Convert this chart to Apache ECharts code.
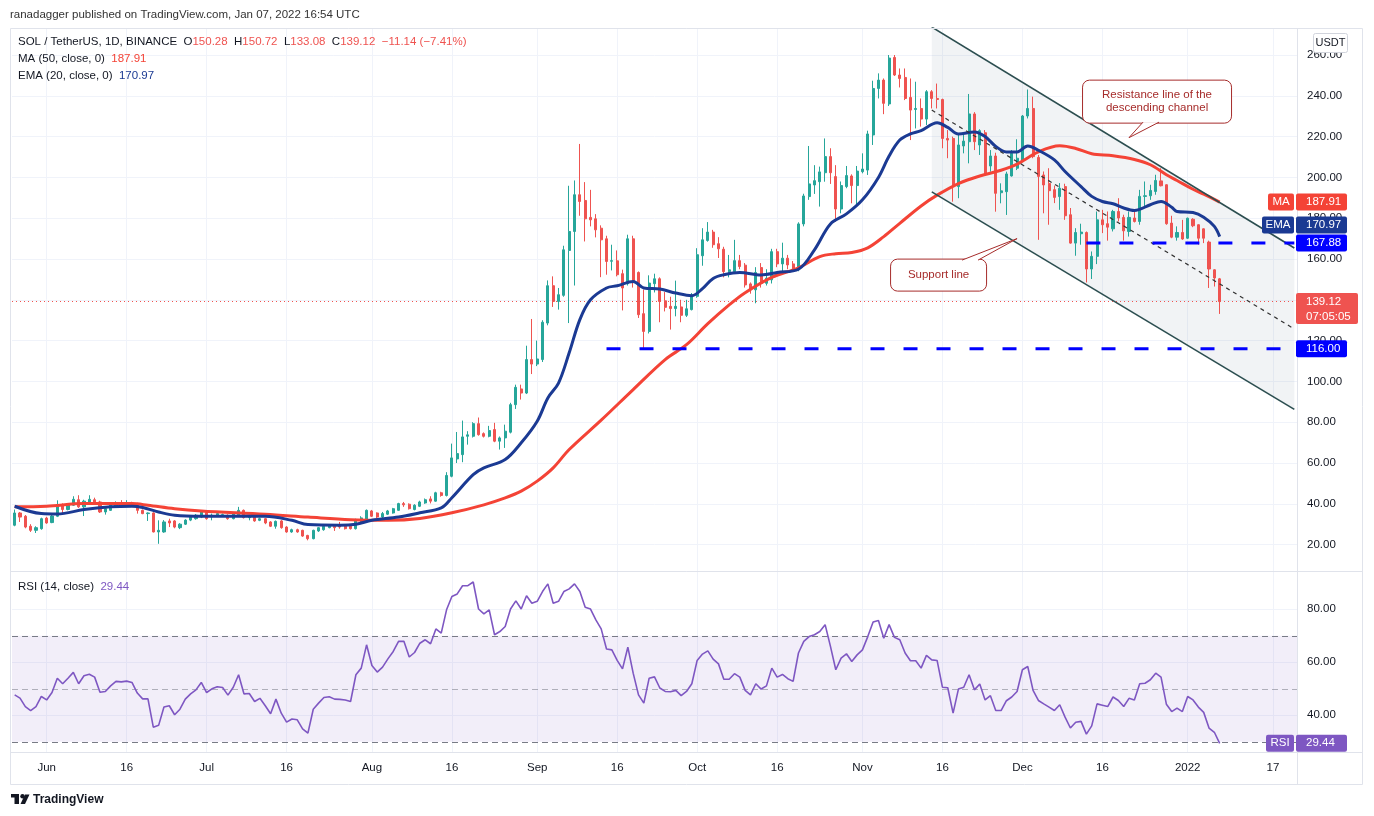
<!DOCTYPE html>
<html lang="en">
<head>
<meta charset="utf-8">
<title>SOL / TetherUS, 1D, BINANCE</title>
<script src="https://cdn.jsdelivr.net/npm/echarts@6.0.0/dist/echarts.min.js"></script>
<style>
  html, body { margin: 0; padding: 0; background: #ffffff; }
  #chart { width: 1374px; height: 816px; }
</style>
</head>
<body>
<div id="chart"></div>
<script>
// daily candles from 2021-05-26 to 2022-01-07, each row is [open, high, low, close]
var ohlc = [
  [29.5, 37.2, 29.0, 35.5], [35.5, 36.0, 31.1, 33.5], [33.9, 34.5, 28.0, 28.6], [29.0, 30.0, 26.2, 27.0], [27.0, 29.0, 25.7, 28.3],
  [27.8, 33.2, 27.3, 32.7], [33.0, 33.6, 30.2, 30.6], [30.8, 34.5, 30.5, 34.0], [33.9, 41.7, 33.5, 39.6], [39.6, 40.2, 34.7, 37.2],
  [37.2, 40.4, 36.8, 40.1], [39.3, 43.7, 39.0, 42.2], [42.0, 44.2, 38.0, 38.5], [38.5, 42.0, 34.0, 41.3], [40.1, 44.2, 39.8, 42.2],
  [42.0, 43.0, 40.0, 40.4], [40.9, 41.5, 35.5, 36.0], [36.0, 38.0, 34.7, 37.6], [36.8, 40.0, 36.5, 39.5], [38.5, 41.2, 38.2, 40.4],
  [40.4, 41.8, 39.2, 39.5], [39.5, 41.8, 38.5, 40.4], [40.4, 41.0, 39.0, 39.5], [40.1, 40.5, 35.2, 36.8], [36.8, 37.2, 34.9, 35.2],
  [35.2, 35.8, 31.6, 35.5], [35.5, 35.8, 26.0, 26.2], [26.2, 31.9, 20.4, 27.0], [26.2, 32.0, 25.8, 31.1], [31.6, 32.7, 28.6, 30.6],
  [31.6, 32.0, 28.0, 28.6], [28.3, 30.5, 27.6, 30.0], [30.0, 32.4, 29.6, 32.0], [32.0, 34.0, 31.5, 33.5], [32.7, 35.0, 32.2, 34.4],
  [33.5, 36.2, 33.0, 36.0], [35.7, 36.2, 32.2, 32.7], [33.6, 35.2, 31.9, 34.4], [33.9, 35.5, 33.5, 35.2], [34.2, 35.2, 33.8, 34.7],
  [34.4, 34.8, 32.2, 32.7], [32.7, 35.6, 32.4, 35.2], [34.4, 38.5, 34.0, 36.8], [36.8, 37.2, 32.8, 33.2], [33.2, 34.4, 31.9, 34.0],
  [33.5, 34.0, 31.2, 31.6], [31.9, 33.2, 31.5, 32.7], [32.7, 33.0, 30.0, 30.6], [31.1, 31.5, 28.6, 29.0], [29.0, 31.8, 27.8, 31.4],
  [31.6, 32.0, 27.8, 28.3], [28.6, 29.0, 25.8, 26.2], [26.2, 27.8, 25.8, 27.3], [27.3, 27.8, 25.8, 26.2], [27.0, 27.3, 23.8, 24.2],
  [24.5, 24.8, 22.1, 22.9], [22.9, 27.3, 22.6, 27.0], [26.7, 28.6, 26.2, 28.3], [27.3, 29.4, 26.8, 29.0], [28.3, 29.8, 28.0, 29.5],
  [29.0, 29.5, 26.7, 28.3], [29.5, 31.1, 27.8, 28.6], [29.0, 29.4, 27.4, 27.8], [29.0, 29.4, 27.4, 27.8], [27.8, 32.7, 27.4, 31.6],
  [31.1, 33.9, 30.3, 33.1], [32.2, 37.2, 31.8, 36.8], [36.5, 37.0, 33.5, 33.9], [35.5, 35.8, 33.0, 33.5], [33.5, 36.0, 32.7, 35.2],
  [34.9, 37.0, 34.5, 36.5], [35.5, 38.0, 35.2, 37.6], [36.8, 40.5, 36.5, 40.1], [40.1, 40.9, 38.5, 39.5], [39.8, 40.2, 37.2, 37.6],
  [37.2, 39.8, 36.8, 39.3], [38.8, 41.5, 38.4, 40.9], [40.4, 42.6, 40.0, 42.0], [42.4, 43.7, 40.2, 41.3], [41.3, 45.9, 41.0, 45.4],
  [45.4, 45.9, 43.5, 44.1], [44.1, 55.5, 43.6, 53.9], [53.5, 69.5, 53.0, 62.5], [62.0, 75.2, 60.0, 64.6], [64.1, 80.8, 60.4, 72.8],
  [73.1, 75.6, 69.0, 73.8], [73.1, 80.0, 72.5, 79.3], [79.3, 82.3, 73.4, 73.9], [74.4, 75.0, 72.5, 73.1], [73.1, 78.2, 72.6, 75.9],
  [76.4, 79.7, 70.2, 70.7], [70.7, 73.0, 66.6, 72.3], [72.3, 78.8, 67.4, 75.6], [75.1, 89.5, 74.5, 88.6], [88.6, 98.4, 86.5, 97.1],
  [96.3, 98.4, 91.1, 94.3], [94.3, 117.5, 93.8, 110.7], [110.7, 130.6, 103.6, 108.5], [108.5, 120.0, 107.5, 111.0], [110.7, 130.0, 109.5, 129.0],
  [128.6, 149.5, 127.5, 146.9], [146.9, 151.5, 136.5, 139.2], [139.2, 145.8, 135.2, 142.5], [142.2, 166.5, 141.5, 164.5], [164.2, 195.9, 128.6, 173.5],
  [173.5, 198.5, 147.0, 191.5], [191.5, 216.4, 181.2, 188.2], [188.7, 197.7, 168.6, 179.7], [180.4, 193.9, 176.0, 179.2], [179.7, 182.0, 170.6, 174.3],
  [175.1, 176.5, 151.1, 169.4], [169.9, 171.4, 152.3, 158.8], [158.9, 167.0, 154.4, 159.2], [159.1, 164.2, 151.5, 152.3], [152.8, 154.8, 134.8, 145.8],
  [147.9, 171.9, 147.0, 169.9], [169.9, 171.4, 146.0, 148.5], [153.4, 153.9, 131.1, 132.7], [133.2, 145.0, 116.4, 124.5], [124.5, 152.0, 123.5, 148.2],
  [147.9, 152.8, 143.6, 150.3], [150.3, 151.0, 129.0, 139.2], [139.5, 143.8, 134.3, 136.3], [136.8, 141.5, 125.4, 135.7], [135.7, 149.4, 131.9, 136.8],
  [136.5, 140.0, 129.0, 132.4], [132.4, 140.0, 131.6, 135.6], [135.2, 143.3, 134.8, 142.2], [141.7, 165.3, 141.0, 162.1], [161.6, 175.1, 156.7, 169.4],
  [169.1, 178.1, 168.5, 173.2], [173.2, 174.3, 165.5, 167.0], [167.5, 170.7, 160.5, 165.0], [164.8, 166.0, 151.0, 153.8], [153.8, 162.0, 151.0, 154.7],
  [153.8, 169.4, 153.0, 159.2], [159.2, 162.0, 155.0, 156.3], [157.0, 158.0, 146.0, 147.3], [147.8, 148.5, 143.0, 144.9], [144.9, 156.0, 138.3, 153.4],
  [155.8, 158.0, 146.0, 148.1], [148.1, 155.0, 147.0, 150.6], [149.8, 165.0, 148.0, 163.6], [163.6, 165.0, 156.0, 157.6], [157.6, 168.0, 153.4, 160.4],
  [160.4, 162.0, 155.0, 157.1], [157.6, 159.0, 154.0, 155.5], [155.0, 178.0, 154.0, 177.2], [177.2, 192.0, 176.0, 190.9], [190.6, 215.4, 189.0, 196.8],
  [196.3, 206.0, 191.9, 198.4], [197.9, 205.3, 185.7, 202.7], [202.3, 219.1, 197.9, 210.2], [210.2, 214.3, 196.8, 202.3], [200.4, 206.0, 178.3, 184.5],
  [184.5, 198.0, 182.4, 196.0], [195.5, 205.6, 194.7, 200.9], [200.7, 201.5, 187.3, 196.0], [196.0, 205.6, 185.7, 203.1], [202.8, 211.8, 202.0, 204.1],
  [203.6, 222.9, 201.2, 221.3], [220.8, 247.4, 215.9, 243.6], [243.6, 251.0, 238.7, 247.7], [247.7, 248.5, 231.0, 236.3], [236.0, 260.0, 235.0, 258.5],
  [258.8, 260.0, 249.7, 250.2], [250.2, 253.4, 244.1, 248.5], [249.0, 253.4, 237.9, 238.7], [239.2, 248.5, 218.3, 233.0], [233.3, 246.9, 224.0, 233.8],
  [233.8, 238.7, 224.9, 228.6], [228.6, 242.8, 225.7, 242.0], [242.0, 242.8, 233.8, 238.7], [238.7, 246.0, 233.8, 238.2], [238.2, 238.6, 214.3, 219.1],
  [219.1, 223.2, 209.4, 218.3], [219.1, 220.0, 188.1, 195.5], [195.5, 220.8, 189.8, 215.9], [215.4, 221.6, 211.8, 217.8], [217.5, 240.9, 206.9, 231.1],
  [231.1, 232.0, 213.4, 217.5], [215.9, 223.6, 211.0, 222.9], [221.9, 223.2, 201.2, 202.0], [205.6, 213.4, 202.8, 210.5], [210.5, 212.1, 183.2, 192.2],
  [192.5, 197.1, 187.3, 193.4], [193.0, 202.8, 181.6, 201.7], [200.7, 213.4, 200.4, 211.8], [204.5, 218.7, 203.6, 209.4], [208.5, 230.6, 207.7, 230.1],
  [230.1, 243.1, 228.9, 233.8], [233.8, 239.6, 209.4, 210.2], [209.8, 211.0, 169.4, 200.5], [201.2, 202.9, 182.4, 196.3], [197.0, 204.5, 176.8, 193.5],
  [194.0, 196.0, 187.4, 190.2], [190.6, 197.2, 184.1, 194.7], [195.5, 196.9, 179.2, 181.2], [181.7, 185.0, 167.5, 167.8], [167.8, 175.1, 161.6, 173.0],
  [172.4, 177.3, 167.0, 173.2], [173.0, 173.5, 148.5, 155.1], [155.1, 163.7, 150.2, 161.3], [161.3, 183.3, 157.5, 179.2], [179.2, 184.1, 172.7, 176.8],
  [177.3, 183.3, 169.0, 175.6], [174.8, 184.1, 173.5, 183.3], [183.3, 189.8, 178.4, 180.1], [180.4, 181.7, 169.0, 173.8], [173.5, 183.3, 171.0, 180.4],
  [180.1, 184.1, 177.9, 178.4], [178.4, 193.9, 176.8, 190.7], [190.7, 198.0, 184.9, 191.0], [191.0, 196.4, 189.0, 193.6], [193.1, 201.3, 191.5, 198.5],
  [198.3, 204.5, 195.6, 195.9], [196.4, 196.6, 176.8, 177.3], [177.6, 181.2, 170.2, 170.7], [170.7, 176.0, 169.0, 173.0], [173.0, 179.2, 169.4, 169.8],
  [170.2, 180.3, 169.8, 180.0], [179.5, 180.0, 175.6, 176.3], [176.8, 177.0, 167.0, 170.2], [174.8, 175.0, 167.8, 170.2], [168.3, 169.0, 145.8, 155.1],
  [154.7, 155.0, 146.5, 150.7], [150.28, 150.72, 133.08, 139.12]
];

// RSI (14, close), one value per candle
var rsi14 = [
  47.7, 46.5, 43.3, 41.8, 43.3, 47.1, 45.8, 48.6, 54.0, 51.9,
  54.0, 56.2, 51.9, 54.9, 55.5, 54.4, 48.7, 49.0, 51.1, 52.8,
  52.6, 52.9, 52.4, 48.4, 46.2, 46.2, 35.5, 36.2, 43.1, 43.6,
  40.2, 42.3, 46.1, 48.1, 49.6, 52.4, 48.6, 50.0, 50.8, 50.5,
  47.6, 50.6, 55.3, 48.1, 48.2, 45.2, 46.4, 43.6, 40.6, 46.1,
  40.8, 37.4, 38.6, 38.3, 34.9, 33.3, 42.3, 44.6, 46.7, 47.0,
  46.1, 46.0, 45.8, 45.2, 55.3, 57.8, 66.6, 58.8, 56.3, 58.2,
  61.3, 64.1, 67.9, 67.9, 62.0, 63.7, 67.2, 68.5, 67.0, 72.6,
  71.0, 79.8, 84.8, 85.8, 88.9, 88.9, 90.3, 80.1, 78.3, 79.8,
  70.4, 71.6, 73.5, 80.1, 83.2, 80.1, 85.1, 82.3, 83.0, 86.7,
  89.6, 82.3, 83.0, 86.7, 87.7, 89.6, 86.7, 80.8, 80.1, 76.0,
  72.6, 65.0, 64.7, 60.7, 57.5, 65.7, 55.9, 47.7, 44.6, 54.0,
  54.5, 50.3, 49.0, 48.9, 49.4, 47.4, 49.0, 51.9, 60.7, 63.1,
  64.3, 61.2, 59.4, 53.6, 53.6, 55.7, 54.4, 49.4, 47.7, 51.9,
  49.9, 51.1, 57.8, 54.4, 55.4, 53.8, 52.8, 63.5, 67.9, 69.7,
  70.4, 71.6, 74.2, 66.0, 57.2, 61.6, 63.2, 60.3, 62.8, 64.7,
  69.7, 75.2, 75.8, 69.1, 74.2, 69.4, 68.5, 63.5, 60.6, 60.6,
  57.8, 62.6, 60.9, 60.7, 50.6, 50.4, 40.8, 49.9, 50.6, 55.3,
  49.6, 51.8, 45.8, 47.4, 41.8, 41.8, 45.5, 46.9, 49.0, 57.2,
  58.4, 49.4, 45.6, 44.3, 43.1, 41.8, 44.0, 39.3, 35.2, 37.4,
  37.7, 32.9, 36.0, 44.3, 43.8, 43.3, 46.9, 45.6, 43.3, 46.4,
  45.8, 51.9, 52.1, 53.4, 55.9, 54.4, 44.2, 41.4, 42.7, 41.4,
  47.1, 45.8, 43.1, 41.1, 35.2, 33.6, 29.44
];

// moving averages as [day index, value]
var ma50 = [
  [0, 38.5], [6, 38.8], [13, 40.1], [22, 40.1], [25, 39.3], [30, 37.6], [35, 36.5], [47, 34.9], [55, 33.5],
  [63, 32.2], [70, 31.9], [76, 32.8], [82, 35.6], [88, 39.5], [92, 42.9], [95, 46.2], [98, 51.1], [101, 57.6],
  [104, 66.6], [110, 81.0], [116, 96.0], [122, 110.7], [126, 118.0], [130, 128.3], [134, 137.5], [137, 143.5],
  [142, 151.0], [147, 155.7], [151, 161.2], [154, 162.6], [157, 163.2], [160, 165.5], [163, 171.0], [166, 177.5],
  [170, 186.0], [173, 191.3], [177, 197.0], [181, 200.7], [185, 203.5], [188, 206.5], [192, 212.5], [196, 215.5],
  [199, 214.2], [202, 211.6], [206, 210.6], [210, 208.8], [213, 206.2], [216, 201.3], [218, 198.5], [221, 194.2],
  [223, 191.8], [226, 187.91]
];
var ema20 = [
  [0, 38.8], [5, 35.2], [8, 35.0], [13, 37.2], [18, 38.5], [22, 38.8], [24, 38.2], [27, 36.0], [30, 34.4],
  [35, 33.9], [47, 33.9], [52, 31.9], [55, 29.8], [61, 29.5], [64, 30.0], [67, 31.9], [72, 33.5], [76, 35.6],
  [80, 38.0], [82, 43.0], [86, 54.3], [88, 57.6], [92, 61.7], [95, 69.9], [98, 80.5], [100, 91.9], [102, 99.2],
  [104, 114.0], [106, 130.3], [108, 140.0], [111, 145.8], [113, 146.9], [116, 149.0], [118, 145.8], [121, 145.3],
  [124, 143.3], [127, 142.0], [129, 145.5], [131, 150.5], [133, 152.3], [136, 153.4], [140, 152.2], [143, 153.4],
  [147, 155.0], [150, 164.5], [153, 177.2], [156, 182.1], [159, 189.0], [162, 200.0], [164, 210.5], [166, 218.3],
  [168, 221.3], [170, 222.9], [173, 226.8], [175, 224.5], [177, 221.3], [180, 222.2], [182, 220.0], [184, 215.2],
  [186, 212.5], [188, 212.5], [190, 215.4], [192, 213.3], [195, 208.6], [197, 202.9], [200, 195.5], [202, 190.7],
  [204, 188.2], [206, 187.1], [208, 185.0], [210, 183.8], [213, 186.6], [215, 188.2], [217, 185.4], [218, 183.3],
  [221, 182.8], [223, 180.5], [225, 176.0], [226, 170.97]
];

// time axis labels as [day index, text]
var timeTicks = [
  [6, 'Jun'], [21, '16'], [36, 'Jul'], [51, '16'], [67, 'Aug'], [82, '16'], [98, 'Sep'], [113, '16'],
  [128, 'Oct'], [143, '16'], [159, 'Nov'], [174, '16'], [189, 'Dec'], [204, '16'], [220, '2022'], [236, '17']
];

// drawings: descending channel and horizontal levels, [day index, price]
var channelTop = [[172, 273.7], [240, 165.4]];
var channelBottom = [[172, 192.9], [240, 86.3]];
var channelMid = [[172, 233.0], [240, 125.7]];
var support116 = [[111, 116], [240, 116]];
var level16788 = [[201, 167.88], [240, 167.88]];
var lastPrice = 139.12;

// 241 daily slots: the bars plus empty room on the right
var categories = [];
for (var d = 0; d < 241; d++) {
  categories.push(new Date(Date.UTC(2021, 4, 26) + d * 86400000).toISOString().slice(0, 10));
}

var UP = '#26a69a', DOWN = '#ef5350';
var MA_COLOR = '#f44336', EMA_COLOR = '#1b3a93', RSI_COLOR = '#7e57c2';
var LEVEL_BLUE = '#0000ff', CHANNEL = '#2c4e50', NOTE = '#a62c2b';
var GRID_LINE = '#f0f3fa', BORDER = '#e0e3eb', TEXT = '#131722';
var FAMILY = '"Liberation Sans", Arial, sans-serif';
var FONT = '11.5px ' + FAMILY;

var GRID_LEFT = 12, GRID_RIGHT = 77;
var W = 1374, AX = W - GRID_RIGHT;

var tickLabel = {};
timeTicks.forEach(function (t) { tickLabel[t[0]] = t[1]; });
var vLines = timeTicks.map(function (t) { return { xAxis: t[0] }; });

function every20(v) {
  var r = Math.round(v / 20) * 20;
  return Math.abs(v - r) < 1e-6 ? v.toFixed(2) : '';
}

function levelLine(data, color, width, type, z) {
  return {
    type: 'line', data: data, symbol: 'none', silent: true, z: z,
    lineStyle: { color: color, width: width, type: type }
  };
}

function gridHelper(axisIdx) {
  return {
    type: 'line', xAxisIndex: axisIdx, yAxisIndex: axisIdx, data: [], silent: true,
    markLine: {
      silent: true, symbol: 'none', z: 0, animation: false,
      label: { show: false },
      lineStyle: { color: GRID_LINE, type: 'solid', width: 1 },
      emphasis: { disabled: true },
      data: vLines
    }
  };
}

var option = {
  animation: false,
  backgroundColor: '#ffffff',
  textStyle: { fontFamily: FAMILY },
  grid: [
    { left: GRID_LEFT, right: GRID_RIGHT, top: 28, height: 543, outerBoundsMode: 'none' },
    { left: GRID_LEFT, right: GRID_RIGHT, top: 571, height: 181, outerBoundsMode: 'none' }
  ],
  xAxis: [
    {
      type: 'category', gridIndex: 0, data: categories, boundaryGap: true,
      axisLine: { show: false }, axisTick: { show: false }, axisLabel: { show: false }, splitLine: { show: false }
    },
    {
      type: 'category', gridIndex: 1, data: categories, boundaryGap: true,
      axisLine: { show: false }, axisTick: { show: false }, splitLine: { show: false },
      axisLabel: {
        color: TEXT, fontSize: 11.5, margin: 10,
        interval: function (i) { return tickLabel[i] !== undefined; },
        formatter: function (v, i) { return tickLabel[i] || ''; }
      }
    }
  ],
  yAxis: [
    {
      type: 'value', gridIndex: 0, position: 'right', min: 7.06, max: 273.24, splitNumber: 13,
      axisLine: { show: false }, axisTick: { show: false },
      axisLabel: { color: TEXT, fontSize: 11.5, margin: 10, formatter: every20 },
      splitLine: { lineStyle: { color: GRID_LINE } }
    },
    {
      type: 'value', gridIndex: 1, position: 'right', min: 26.15, max: 94.45, splitNumber: 4,
      axisLine: { show: false }, axisTick: { show: false },
      axisLabel: { color: TEXT, fontSize: 11.5, margin: 10, formatter: every20 },
      splitLine: { lineStyle: { color: GRID_LINE } }
    }
  ],
  series: [
    gridHelper(0),
    gridHelper(1),
    {
      type: 'custom', name: 'channel', xAxisIndex: 0, yAxisIndex: 0, silent: true, z: 1,
      data: [[channelTop[0][0], channelTop[0][1]]],
      renderItem: function (params, api) {
        var pts = [channelTop[0], channelTop[1], channelBottom[1], channelBottom[0]].map(function (p) {
          return api.coord(p);
        });
        return { type: 'polygon', shape: { points: pts }, style: { fill: 'rgba(120,134,156,0.1)' } };
      }
    },
    {
      type: 'candlestick', name: 'SOL/USDT', xAxisIndex: 0, yAxisIndex: 0, z: 2,
      barWidth: 2.6,
      data: ohlc.map(function (r) { return [r[0], r[3], r[2], r[1]]; }),
      itemStyle: { color: UP, color0: DOWN, borderColor: UP, borderColor0: DOWN, borderWidth: 1 },
      markLine: {
        silent: true, symbol: 'none', z: 2, label: { show: false },
        lineStyle: { color: DOWN, type: [1, 3], width: 1 },
        data: [{ yAxis: lastPrice }]
      }
    },
    {
      type: 'line', name: 'MA 50', data: ma50, smooth: 0.35, symbol: 'none', silent: true, z: 3,
      lineStyle: { color: MA_COLOR, width: 3 }
    },
    {
      type: 'line', name: 'EMA 20', data: ema20, smooth: 0.35, symbol: 'none', silent: true, z: 3,
      lineStyle: { color: EMA_COLOR, width: 3 }
    },
    levelLine(channelTop, CHANNEL, 1.6, 'solid', 4),
    levelLine(channelBottom, CHANNEL, 1.6, 'solid', 4),
    levelLine(channelMid, '#333333', 1.2, [4, 4], 4),
    levelLine(support116, LEVEL_BLUE, 3, [14, 19], 4),
    levelLine(level16788, LEVEL_BLUE, 3, [14, 19], 4),
    {
      type: 'line', name: 'RSI', xAxisIndex: 1, yAxisIndex: 1, data: rsi14, symbol: 'none', silent: true, z: 3,
      lineStyle: { color: RSI_COLOR, width: 1.6 },
      markArea: {
        silent: true, z: 1, label: { show: false },
        itemStyle: { color: 'rgba(126,87,194,0.1)' },
        data: [[{ yAxis: 30 }, { yAxis: 70 }]]
      },
      markLine: {
        silent: true, symbol: 'none', z: 2, label: { show: false },
        lineStyle: { color: '#787b86', type: [6, 4], width: 1 },
        data: [
          { yAxis: 70 },
          { yAxis: 50, lineStyle: { color: 'rgba(120,123,134,0.55)', type: [6, 4], width: 1 } },
          { yAxis: 30 }
        ]
      }
    }
  ]
};

var chart = echarts.init(document.getElementById('chart'));
chart.setOption(option);

function py(p) { return chart.convertToPixel({ yAxisIndex: 0 }, p); }
function ry(v) { return chart.convertToPixel({ yAxisIndex: 1 }, v); }
function pt(i, p) { return chart.convertToPixel({ gridIndex: 0 }, [i, p]); }

function txt(x, y, text, style) {
  var s = { text: text, fill: TEXT, font: FONT, verticalAlign: 'middle', textVerticalAlign: 'middle' };
  for (var k in style) s[k] = style[k];
  return { type: 'text', x: x, y: y, z: 101, style: s };
}
function box(x, y, w, h, fill, extra) {
  var s = { fill: fill };
  for (var k in extra) s[k] = extra[k];
  return { type: 'rect', z: 100, shape: { x: x, y: y, width: w, height: h, r: 2 }, style: s };
}
function valueTag(y, text, fill, w) {
  return [box(AX - 1, y - 8.5, w || 51, 17, fill), txt(AX + 9, y, text, { fill: '#ffffff' })];
}
function nameTag(y, text, fill, w) {
  return [box(AX - 3 - w, y - 8.5, w, 17, fill), txt(AX - 3 - w / 2, y, text, { fill: '#ffffff', textAlign: 'center' })];
}

var g = [];
// frame and pane separators
g.push({ type: 'rect', z: 90, shape: { x: 10.5, y: 28.5, width: 1352, height: 756 }, style: { fill: null, stroke: BORDER, lineWidth: 1 } });
g.push({ type: 'line', z: 90, shape: { x1: 10, y1: 571.5, x2: 1363, y2: 571.5 }, style: { stroke: BORDER, lineWidth: 1 } });
g.push({ type: 'line', z: 90, shape: { x1: 10, y1: 752.5, x2: 1363, y2: 752.5 }, style: { stroke: BORDER, lineWidth: 1 } });
g.push({ type: 'line', z: 90, shape: { x1: AX + 0.5, y1: 28, x2: AX + 0.5, y2: 785 }, style: { stroke: BORDER, lineWidth: 1 } });

// header and legends
g.push(txt(10, 15, 'ranadagger published on TradingView.com, Jan 07, 2022 16:54 UTC', { fill: '#333333' }));
g.push(txt(18, 42,
  '{d|SOL / TetherUS, 1D, BINANCE}  {d|O}{r|150.28}  {d|H}{r|150.72}  {d|L}{r|133.08}  {d|C}{r|139.12}  {r|\u221211.14 (\u22127.41%)}',
  { rich: { d: { fill: TEXT, font: FONT }, r: { fill: DOWN, font: FONT } } }));
g.push(txt(18, 59, '{d|MA (50, close, 0)}  {r|187.91}', { rich: { d: { fill: TEXT, font: FONT }, r: { fill: MA_COLOR, font: FONT } } }));
g.push(txt(18, 76, '{d|EMA (20, close, 0)}  {b|170.97}', { rich: { d: { fill: TEXT, font: FONT }, b: { fill: EMA_COLOR, font: FONT } } }));
g.push(txt(18, 587, '{d|RSI (14, close)}  {p|29.44}', { rich: { d: { fill: TEXT, font: FONT }, p: { fill: RSI_COLOR, font: FONT } } }));

// currency box
g.push(box(1313.5, 33.5, 34, 19, '#ffffff', { stroke: '#d1d4dc', lineWidth: 1 }));
g.push(txt(1330.5, 43, 'USDT', { textAlign: 'center', font: '11px ' + FAMILY }));

// price scale tags
var yMA = py(187.91), yLvl = py(167.88), yEMA = Math.min(py(170.97), yLvl - 18);
g = g.concat(nameTag(yMA, 'MA', MA_COLOR, 26), valueTag(yMA, '187.91', MA_COLOR));
g = g.concat(nameTag(yEMA, 'EMA', EMA_COLOR, 32), valueTag(yEMA, '170.97', EMA_COLOR));
g = g.concat(valueTag(yLvl, '167.88', LEVEL_BLUE));
var yLast = py(lastPrice);
g.push(box(AX - 1, yLast - 8.5, 62, 31, DOWN));
g.push(txt(AX + 9, yLast, '139.12', { fill: '#ffffff' }));
g.push(txt(AX + 9, yLast + 15, '07:05:05', { fill: '#ffffff' }));
g = g.concat(valueTag(py(116), '116.00', LEVEL_BLUE));
var yRsi = ry(29.44);
g = g.concat(nameTag(yRsi, 'RSI', RSI_COLOR, 28), valueTag(yRsi, '29.44', RSI_COLOR));

// callouts
function callout(tip, bx, by, bw, bh, base1, base2, text) {
  var out = [];
  out.push({ type: 'rect', z: 100, shape: { x: bx + 0.5, y: by + 0.5, width: bw, height: bh, r: 7 },
    style: { fill: '#ffffff', stroke: NOTE, lineWidth: 1 } });
  out.push({ type: 'polygon', z: 101, shape: { points: [base1, base2, tip] }, style: { fill: '#ffffff' } });
  out.push({ type: 'polyline', z: 102, shape: { points: [base1, tip, base2] }, style: { stroke: NOTE, lineWidth: 1, fill: null } });
  out.push(txt(bx + bw / 2 + 0.5, by + bh / 2 + 0.5, text, { fill: NOTE, textAlign: 'center', lineHeight: 13 }));
  return out;
}
var rTip = pt(209, 219.5);
var rx = rTip[0] - 47, rY = rTip[1] - 58;
g = g.concat(callout(rTip, rx, rY, 149, 43, [rTip[0] + 14, rY + 42.5], [rTip[0] + 30, rY + 42.5],
  'Resistance line of the\ndescending channel'));
var sTip = pt(188, 170);
var sx = sTip[0] - 127, sY = sTip[1] + 20;
g = g.concat(callout(sTip, sx, sY, 96, 32, [sx + 72, sY + 1.5], [sx + 88, sY + 1.5], 'Support line'));

// footer logo
g.push({ type: 'rect', z: 100, shape: { x: 11, y: 794, width: 8, height: 3.5 }, style: { fill: TEXT } });
g.push({ type: 'rect', z: 100, shape: { x: 14.5, y: 794, width: 4.5, height: 10 }, style: { fill: TEXT } });
g.push({ type: 'circle', z: 100, shape: { cx: 22.5, cy: 796.3, r: 2.2 }, style: { fill: TEXT } });
g.push({ type: 'polygon', z: 100, shape: { points: [[20.5, 804], [25, 794.5], [29.5, 794.5], [25, 804]] }, style: { fill: TEXT } });
g.push(txt(33, 799.5, 'TradingView', { font: 'bold 12px ' + FAMILY }));

chart.setOption({ graphic: { elements: g } });
</script>
</body>
</html>
